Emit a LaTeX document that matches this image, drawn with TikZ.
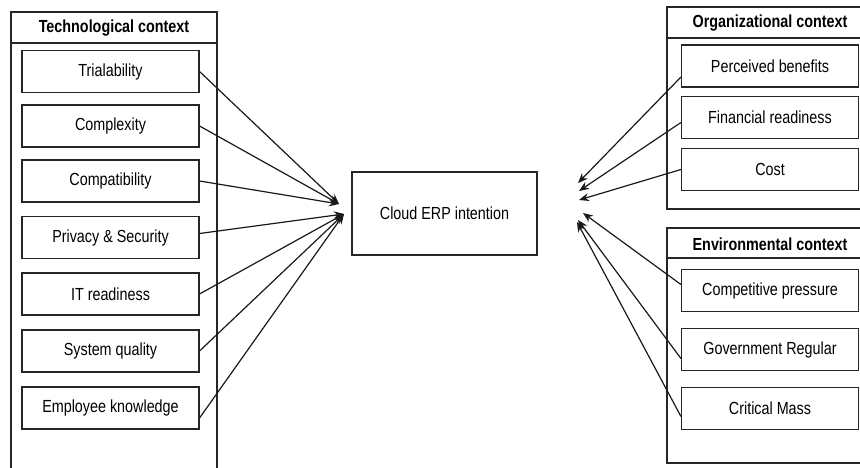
\documentclass[tikz,border=0pt]{standalone}
\usepackage{fontspec}
\setmainfont{Liberation Sans}[FakeStretch=0.82]
\usetikzlibrary{arrows.meta}
\tikzset{
  factor/.style={draw=black!85, line width=1.1pt, minimum width=177pt,
    minimum height=42pt, inner sep=0pt, font=\fontsize{17.5}{20}\selectfont},
  frame/.style={draw=black!85, line width=1.1pt},
  heading/.style={inner sep=0pt, font=\fontsize{17.5}{20}\selectfont\bfseries},
  link/.style={draw=black!90, line width=1.2pt, -{Stealth[length=10pt,width=8pt]}}
}
\begin{document}
\begin{tikzpicture}[x=1pt,y=-1pt]
  \useasboundingbox (0,0) rectangle (860,468);
  % frames
  \draw[frame] (11,475) -- (11,12) -- (217,12) -- (217,475);
  \draw[frame] (11,43) -- (217,43);
  \draw[frame] (667,7) rectangle (875,209);
  \draw[frame] (667,38) -- (875,38);
  \draw[frame] (667,228) rectangle (875,463);
  \draw[frame] (667,258) -- (875,258);
  \draw
    (114,28) node[heading] (th){Technological context}
    (770,23) node[heading] (oh){Organizational context}
    (770,244) node[heading] (eh){Environmental context};
  % factors
  \draw
    (110.5,71.5) node[factor] (t1){Trialability}
    (110.5,126) node[factor] (t2){Complexity}
    (110.5,181) node[factor] (t3){Compatibility}
    (110.5,237.5) node[factor] (t4){Privacy \& Security}
    (110.5,294) node[factor] (t5){IT readiness}
    (110.5,351) node[factor] (t6){System quality}
    (110.5,408) node[factor] (t7){Employee knowledge}
    (770,66) node[factor] (o1){Perceived benefits}
    (770,117.5) node[factor] (o2){Financial readiness}
    (770,169.5) node[factor] (o3){Cost}
    (770,290.5) node[factor] (e1){Competitive pressure}
    (770,349.5) node[factor] (e2){Government Regular}
    (770,408.5) node[factor] (e3){Critical Mass};
  \node[factor, minimum width=185pt, minimum height=83pt] (c) at (444.5,213.5)
    {Cloud ERP intention};
  % arrow ends
  \coordinate (ta) at (339,204);
  \coordinate (tb) at (344,214);
  \coordinate (oa) at (578,183);
  \coordinate (ob) at (579,191);
  \coordinate (oc) at (579,200);
  \coordinate (ea) at (583,213);
  \coordinate (eb) at (578,220);
  \coordinate (ec) at (577,222);
  \begin{scope}[link]
    \draw (t1.east) to (ta);
    \draw (t2.east) to (ta);
    \draw (t3.east) to (ta);
    \draw ([yshift=4pt]t4.east) to (tb);
    \draw (t5.east) to (tb);
    \draw (t6.east) to (tb);
    \draw ([yshift=-10pt]t7.east) to (tb);
    \draw ([yshift=-11pt]o1.west) to (oa);
    \draw ([yshift=-5pt]o2.west) to (ob);
    \draw (o3.west) to (oc);
    \draw ([yshift=6pt]e1.west) to (ea);
    \draw ([yshift=-9pt]e2.west) to (eb);
    \draw ([yshift=-8pt]e3.west) to (ec);
  \end{scope}
\end{tikzpicture}
\end{document}
